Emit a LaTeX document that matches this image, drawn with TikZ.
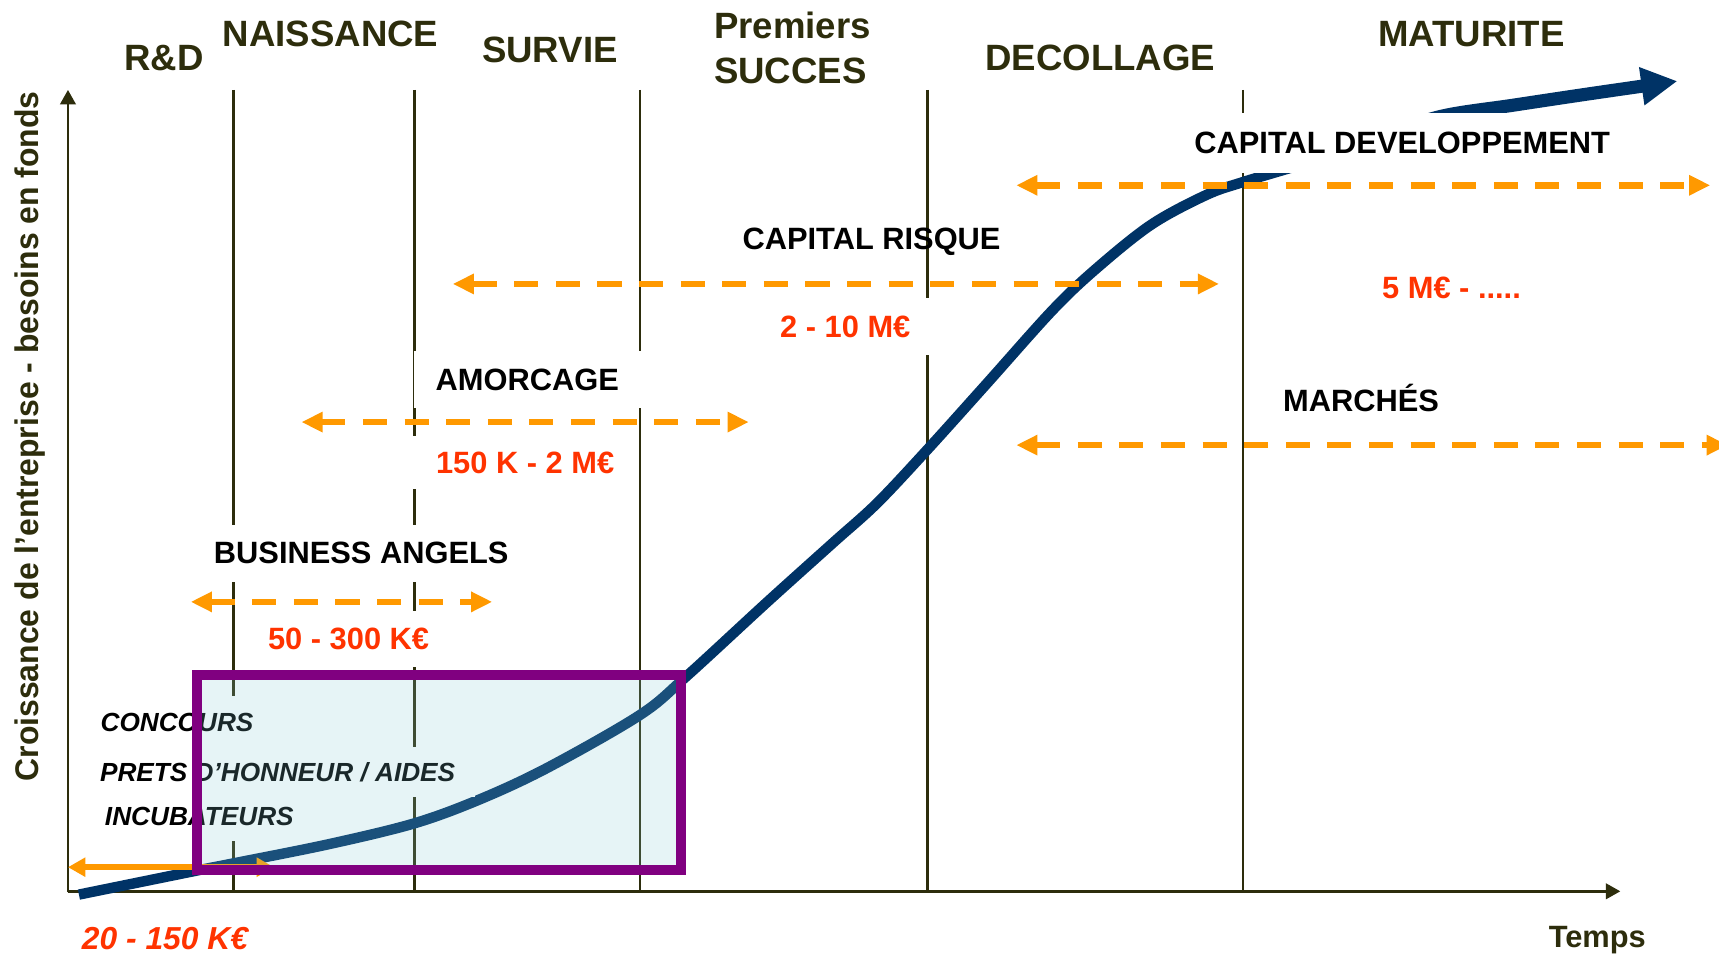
\documentclass[tikz,border=0pt]{standalone}
\usepackage{fontspec}
\setmainfont{Liberation Sans}
\usetikzlibrary{arrows.meta}
\definecolor{axiscol}{RGB}{45,45,12}
\definecolor{curvenavy}{RGB}{0,51,102}
\definecolor{dashorange}{RGB}{255,153,0}
\definecolor{moneyred}{RGB}{255,51,0}
\definecolor{boxpurple}{RGB}{128,0,128}
\definecolor{boxfill}{RGB}{130,200,210}
\tikzset{
  stage/.style={font=\bfseries\fontsize{19}{22}\selectfont, text=axiscol, anchor=base, inner sep=0pt},
  lab/.style={font=\bfseries\fontsize{16}{19}\selectfont, text=black, anchor=base, inner sep=0pt},
  money/.style={lab, text=moneyred},
  itlab/.style={font=\bfseries\itshape\fontsize{13.6}{16}\selectfont, text=black, anchor=base west, fill=white, inner ysep=7.9pt},
  whitebox/.style={fill=white, inner xsep=#1, inner ysep=9pt},
  stageline/.style={draw=axiscol, line width=1.2pt},
  axisline/.style={draw=axiscol, line width=1.4pt, arrows={-Triangle[length=7.5pt,width=8pt]}},
  dasharrow/.style={draw=dashorange, line width=3.4pt, dash pattern=on 12.5pt off 9.1pt,
     arrows={Triangle[length=11pt,width=10pt]-Triangle[length=11pt,width=10pt]}},
  solidarrow/.style={draw=dashorange, line width=3.1pt,
     arrows={Triangle[length=9pt,width=9.5pt]-Triangle[length=9pt,width=9.5pt]}},
  growth/.style={draw=curvenavy, line width=5.4pt},
  growthhead/.style={draw=curvenavy, line width=6.8pt, arrows={-Triangle[length=18.7pt,width=18.7pt]}},
  fundbox/.style={draw=boxpurple, line width=5.1pt, fill=boxfill, fill opacity=0.2}
}
\begin{document}
\begin{tikzpicture}[x=0.02cm,y=-0.02cm]
\useasboundingbox (0,0) rectangle (1568,872);
\fill[white] (0,0) rectangle (1568,872);
\clip (0,0) rectangle (1568,872);

% axes
\coordinate (origin) at (62,814);
\coordinate (ytip) at (62,82);
\coordinate (xtip) at (1478,813);
\draw[axisline] (origin) -- (ytip);
\draw[axisline] (62,813) -- (xtip);

% stage separators
\foreach \xx/\nm in {213/a,378/b,584/c,846/d,1134/e}{
  \coordinate (top\nm) at (\xx,82);
  \coordinate (bot\nm) at (\xx,813);
  \draw[stageline] (top\nm) -- (bot\nm);
}

% growth curve
\draw[growth] plot[smooth, tension=0.55] coordinates {
 (72,816) (180,794) (213,787.5) (300,770) (378,751) (438,729) (500,700)
 (584,652) (626,617) (700,549) (760,495) (800,459) (846,410) (900,350)
 (960,283) (1000,245) (1050,205) (1100,178) (1134,166) (1200,146)
 (1260,124) (1315,106)};
\draw[growthhead] plot[smooth, tension=0.55] coordinates {
 (1200,146) (1260,124) (1315,106) (1380,96) (1450,85.5) (1530,74)};

% small orange arrow
\coordinate (sal) at (62,791);
\coordinate (sar) at (250,791);
\draw[solidarrow] (sal) -- (sar);

% dashed financing arrows
\coordinate (bal) at (174,549); \coordinate (bar) at (449,549);
\coordinate (aml) at (275,385); \coordinate (amr) at (683,385);
\coordinate (crl) at (413,259); \coordinate (crr) at (1112,259);
\coordinate (cdl) at (927,169); \coordinate (cdr) at (1560,169);
\coordinate (mal) at (927,406); \coordinate (mar) at (1576,406);
\draw[dasharrow] (bal) -- (bar);
\draw[dasharrow] (aml) -- (amr);
\draw[dasharrow] (crl) -- (crr);
\draw[dasharrow] (cdl) -- (cdr);
\draw[dasharrow] (mal) -- (mar);

% stage titles
\node[stage] (rd) at (149.5,64.3) {R\&D};
\node[stage] (naiss) at (301.5,42.2) {NAISSANCE};
\node[stage] (surv) at (501.5,56.6) {SURVIE};
\node[stage, anchor=base west] (prem) at (651,35.2) {Premiers};
\node[stage, anchor=base west] (succ) at (651,75.8) {SUCCES};
\node[stage] (decol) at (1003.5,64.3) {DECOLLAGE};
\node[stage] (matu) at (1342,42.2) {MATURITE};

% y axis label and x axis label
\node[rotate=90, anchor=base, inner sep=0pt, text=axiscol,
      font=\bfseries\fontsize{17}{20}\selectfont] (ylab) at (35,398)
      {\scalebox{0.975}[1]{Croissance de l’entreprise - besoins en fonds}};
\node[stage, font=\bfseries\fontsize{16}{19}\selectfont] (temps) at (1457,864.5) {Temps};

% financing labels
\node[lab, whitebox=8pt] (ba) at (329.5,514.4) {BUSINESS ANGELS};
\node[money, whitebox=9pt] (bam) at (318,592.4) {50 - 300 K€};
\node[lab, whitebox=11.3pt] (am) at (481,356) {AMORCAGE};
\node[money, whitebox=12.5pt, inner ysep=7.9pt] (amm) at (479,431.5) {150 K - 2 M€};
\node[lab] (cr) at (795,227.4) {CAPITAL RISQUE};
\node[money, whitebox=10.2pt] (crm) at (771,307.5) {2 - 10 M€};
\node[lab, whitebox=9pt, inner ysep=10pt] (cd) at (1279,140) {CAPITAL DEVELOPPEMENT};
\node[money] (cdm) at (1324,272) {5 M€ - .....};
\node[lab] (ma) at (1241.5,375) {MARCHÉS};
\node[money, font=\bfseries\itshape\fontsize{16.5}{19}\selectfont] (smallm) at (150.5,866.5) {20 - 150 K€};

% early stage labels
\node[itlab, inner xsep=4.5pt, inner ysep=9pt] (conc) at (83.5,667) {CONCOURS};
\node[itlab, inner xsep=10.2pt] (prets) at (73,713) {PRETS D’HONNEUR / AIDES};
\node[itlab, inner xsep=4.5pt] (incub) at (87.5,753) {INCUBATEURS};

% early-stage box
\draw[fundbox] (180,616) rectangle (621,793.5);
\end{tikzpicture}
\end{document}
